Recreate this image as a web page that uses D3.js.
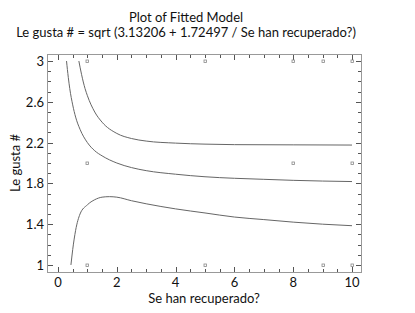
<!DOCTYPE html>
<html>
<head>
<meta charset="utf-8">
<script src="https://cdn.jsdelivr.net/npm/d3@7"></script>
<style>
  body { margin: 0; background: #fff; }
  text { font-family: Lato, "Open Sans", sans-serif; fill: #111; }
</style>
</head>
<body>
<div id="chart"></div>
<script>
// observed points
var obsX = [1, 5, 8, 9, 10, 1, 8, 10, 1, 5, 9, 10];
var obsY = [3, 3, 3, 3, 3, 2, 2, 2, 1, 1, 1, 1];

// fitted line
var fitX = [0.29, 0.35, 0.4, 0.5, 0.6, 0.75, 1, 1.25, 1.5, 2, 2.5, 3, 4, 5, 6, 7, 8, 9, 10];
var fitY = [3.0, 2.84, 2.73, 2.57, 2.45, 2.33, 2.2, 2.12, 2.07, 2.0, 1.955, 1.925, 1.89, 1.865, 1.85, 1.84, 1.83, 1.823, 1.818];

// upper limit
var upX = [0.71, 0.8, 0.92, 1, 1.25, 1.5, 2, 2.5, 3, 4, 5, 6, 8, 10];
var upY = [3.0, 2.87, 2.73, 2.66, 2.5, 2.4, 2.29, 2.24, 2.215, 2.195, 2.185, 2.18, 2.178, 2.176];

// lower limit
var loX = [0.44, 0.5, 0.6, 0.75, 1, 1.25, 1.5, 1.75, 2, 2.5, 3, 4, 5, 6, 7, 8, 9, 10];
var loY = [1.0, 1.15, 1.34, 1.5, 1.59, 1.64, 1.665, 1.67, 1.665, 1.63, 1.6, 1.55, 1.51, 1.47, 1.445, 1.42, 1.4, 1.385];

var xTicks = [0, 2, 4, 6, 8, 10];
var yTicks = [1, 1.4, 1.8, 2.2, 2.6, 3];

var width = 415;
var height = 313;
var pLeft = 47, pRight = 361, pTop = 54, pBottom = 272;

var svg = d3.select('#chart')
    .append('svg')
    .attr('width', width)
    .attr('height', height);

var x = d3.scaleLinear().domain([-0.374, 10.306]).range([pLeft, pRight]);
var y = d3.scaleLinear().domain([0.931, 3.069]).range([pBottom, pTop]);

// title
svg.append('text')
    .attr('x', 186).attr('y', 22)
    .attr('text-anchor', 'middle')
    .style('font-size', '13px')
    .text('Plot of Fitted Model');
svg.append('text')
    .attr('x', 186).attr('y', 37)
    .attr('text-anchor', 'middle')
    .style('font-size', '13px')
    .text('Le gusta # = sqrt (3.13206 + 1.72497 / Se han recuperado?)');

// frame
svg.append('rect')
    .attr('x', pLeft + 0.5).attr('y', pTop + 0.5)
    .attr('width', pRight - pLeft).attr('height', pBottom - pTop)
    .attr('fill', 'none')
    .attr('stroke', '#999');

// ticks on all four sides, pointing in
var xMinor = d3.range(0, 10.01, 0.5);
var yMinor = d3.range(1, 3.01, 0.1);

function hTicks(yPos, dir) {
  svg.selectAll(null)
      .data(xMinor)
      .enter()
      .append('line')
      .attr('x1', function(d) { return Math.round(x(d)) + 0.5; })
      .attr('x2', function(d) { return Math.round(x(d)) + 0.5; })
      .attr('y1', yPos)
      .attr('y2', function(d) {
        var major = Math.abs(d % 2) < 1e-6;
        return yPos + dir * (major ? 5 : 3);
      })
      .attr('stroke', '#555');
}
function vTicks(xPos, dir) {
  svg.selectAll(null)
      .data(yMinor)
      .enter()
      .append('line')
      .attr('y1', function(d) { return Math.round(y(d)) + 0.5; })
      .attr('y2', function(d) { return Math.round(y(d)) + 0.5; })
      .attr('x1', xPos)
      .attr('x2', function(d) {
        var major = yTicks.some(function(t) { return Math.abs(t - d) < 1e-6; });
        return xPos + dir * (major ? 5 : 3);
      })
      .attr('stroke', '#555');
}
hTicks(pBottom, -1);
hTicks(pTop + 1, 1);
vTicks(pLeft + 1, 1);
vTicks(pRight, -1);

// tick labels
svg.selectAll(null)
    .data(xTicks)
    .enter()
    .append('text')
    .attr('x', function(d) { return x(d); })
    .attr('y', 287)
    .attr('text-anchor', 'middle')
    .style('font-size', '13px')
    .text(function(d) { return d; });

svg.selectAll(null)
    .data(yTicks)
    .enter()
    .append('text')
    .attr('x', 44)
    .attr('y', function(d) { return y(d) + 5; })
    .attr('text-anchor', 'end')
    .style('font-size', '13px')
    .text(function(d) { return d; });

// axis titles
svg.append('text')
    .attr('x', 204).attr('y', 303)
    .attr('text-anchor', 'middle')
    .style('font-size', '13px')
    .text('Se han recuperado?');
svg.append('text')
    .attr('transform', 'translate(20,163) rotate(-90)')
    .attr('text-anchor', 'middle')
    .style('font-size', '13px')
    .text('Le gusta #');

// curves
var line = d3.line()
    .x(function(d) { return x(d[0]); })
    .y(function(d) { return y(d[1]); })
    .curve(d3.curveMonotoneX);

[[fitX, fitY], [upX, upY], [loX, loY]].forEach(function(s) {
  svg.append('path')
      .datum(d3.zip(s[0], s[1]))
      .attr('d', line)
      .attr('fill', 'none')
      .attr('stroke', '#666')
      .attr('stroke-width', 1);
});

// points
svg.selectAll('rect.pt')
    .data(d3.zip(obsX, obsY))
    .enter()
    .append('rect')
    .attr('class', 'pt')
    .attr('x', function(d) { return Math.round(x(d[0])) - 1; })
    .attr('y', function(d) { return Math.round(y(d[1])) - 1; })
    .attr('width', 2.5)
    .attr('height', 2.5)
    .attr('fill', 'none')
    .attr('stroke', '#888')
    .attr('stroke-width', 0.8);
</script>
</body>
</html>
